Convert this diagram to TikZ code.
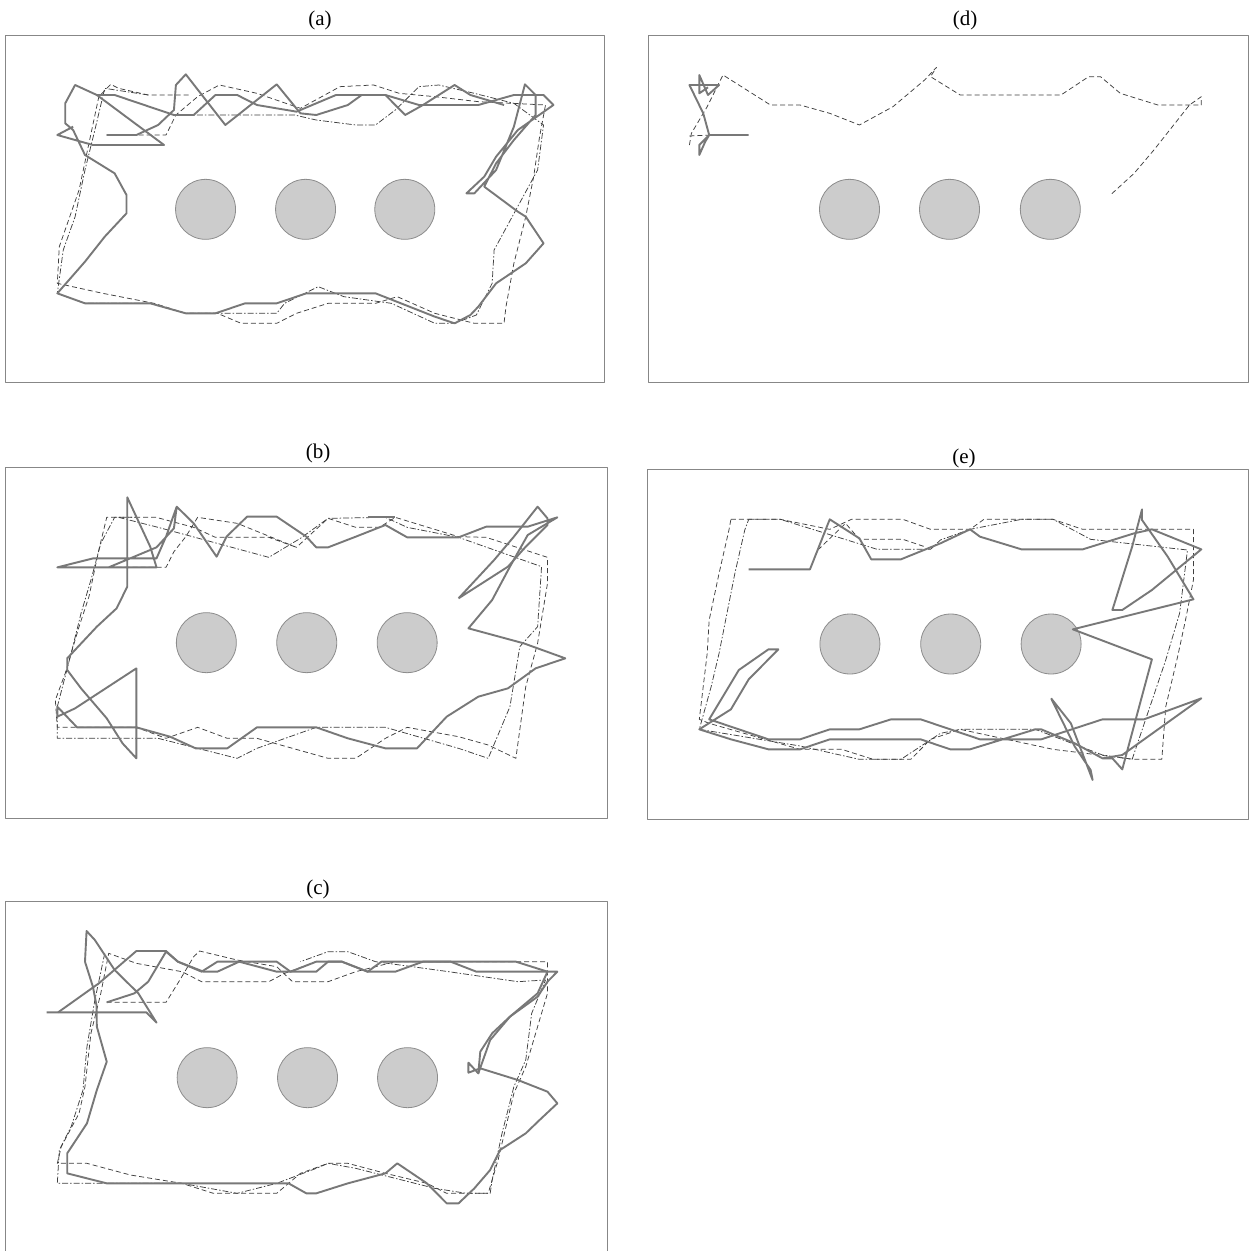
\documentclass[tikz,border=0pt]{standalone}
\usepackage{fontspec}
\setmainfont{Liberation Serif}
\begin{document}
\begin{tikzpicture}[x=1pt,y=-1pt,line join=round,
  frame/.style={draw=black!47,line width=1pt},
  obst/.style={draw=black!45,fill=black!20,line width=0.8pt},
  trajs/.style={draw=black!53,line width=1.9pt},
  trajd/.style={draw=black!75,line width=0.75pt,dash pattern=on 5pt off 3pt},
  trajdd/.style={draw=black!75,line width=0.75pt,dash pattern=on 6pt off 2pt on 1.5pt off 2pt},
  lbl/.style={font=\fontsize{21}{25}\selectfont,inner sep=0pt},
  zoomsc/.style={x={(0.3953pt,0pt)},y={(0pt,-0.33333pt)}}]
\useasboundingbox (0,0) rectangle (1255,1250);
\fill[white] (0,0) rectangle (1255,1250);
% labels
\node[lbl] (la) at (320,20) {(a)};
\node[lbl] (ld) at (965,20) {(d)};
\node[lbl] (lb) at (318,453) {(b)};
\node[lbl] (le) at (964,458) {(e)};
\node[lbl] (lc) at (318,889) {(c)};

% ---------------- panel (a)
\begin{scope}[shift={(0pt,-30pt)},zoomsc]
\draw[frame] (15,15) rectangle (1530,1058);
\draw[obst] (520,538) circle[radius=30pt];
\draw[obst] (773,538) circle[radius=30pt];
\draw[obst] (1024,538) circle[radius=30pt];
\draw[trajd] plot coordinates {(270,315) (420,315) (445,255) (500,200) (555,165) (650,190) (760,235) (860,170) (945,165) (1010,190) (1100,200) (1210,215) (1380,225) (1365,320) (1350,440) (1330,560) (1300,700) (1280,830) (1275,880) (1200,880) (1100,850) (1005,800) (950,820) (830,820) (750,850) (700,880) (610,880) (550,850) (470,850) (390,820) (260,790) (145,760) (150,650) (200,480) (225,340) (250,200) (280,163) (300,175) (375,195) (480,195)};
\draw[trajdd] plot coordinates {(440,255) (745,255) (800,270) (900,285) (950,285) (1000,240) (1060,170) (1110,165) (1200,190) (1300,220) (1375,285) (1360,420) (1305,540) (1250,660) (1245,760) (1205,855) (1150,880) (1100,880) (990,820) (870,800) (805,770) (720,820) (700,850) (470,850) (380,820) (215,820) (145,790) (160,660) (190,560) (215,420) (240,300) (265,175) (375,195)};
\draw[trajs] plot coordinates {(270,315) (345,315) (400,285) (440,240) (445,165) (470,133) (570,285) (700,163) (760,250) (800,255) (880,225) (915,195) (975,195) (1025,255) (1070,225) (1150,165) (1190,195) (1275,225)};
\draw[trajs] plot coordinates {(185,290) (145,315) (235,345) (415,345) (245,195) (290,195) (440,255) (490,255) (545,195) (600,195) (650,225) (750,245) (850,195) (975,195) (1060,225) (1210,225) (1300,195) (1375,195) (1400,225) (1310,300) (1255,380) (1225,440) (1180,490) (1200,490) (1255,420) (1300,290) (1328,163) (1355,195) (1355,255) (1300,330) (1255,400) (1225,470) (1310,545) (1330,560) (1375,640) (1330,700) (1255,760) (1210,830) (1190,855) (1150,880) (1100,860) (950,790) (775,790) (700,820) (620,820) (545,850) (470,850) (380,820) (215,820) (145,790) (215,695) (265,620) (320,550) (320,495) (290,430) (215,375) (185,300) (165,280) (165,220) (190,165) (245,195)};
\end{scope}

% ---------------- panel (d)
\begin{scope}[shift={(640pt,-30pt)},zoomsc]
\draw[frame] (22,15) rectangle (1539,1058);
\draw[obst] (530,538) circle[radius=30pt];
\draw[obst] (783,538) circle[radius=30pt];
\draw[obst] (1038,538) circle[radius=30pt];
\draw[trajd] plot coordinates {(125,345) (130,310) (170,230) (210,135) (330,225) (405,225) (480,250) (555,285) (640,230) (720,150) (750,112) (735,140) (810,195) (1065,195) (1135,140) (1165,140) (1215,190) (1310,225) (1420,225) (1420,200) (1390,225) (1340,300) (1300,360) (1250,430) (1190,495)};
\draw[trajd] plot coordinates {(125,318) (180,315)};
\draw[trajs] plot coordinates {(275,315) (175,315) (160,250) (125,165) (200,165) (172,195) (150,135) (150,190) (172,172)};
\draw[trajs] plot coordinates {(175,315) (150,345) (150,375) (165,335) (175,315)};
\end{scope}

% ---------------- panel (b)
\begin{scope}[shift={(0pt,-440pt)},zoomsc]
\draw[frame] (15,82) rectangle (1537,1135);
\draw[obst] (522,608) circle[radius=30pt];
\draw[obst] (776,608) circle[radius=30pt];
\draw[obst] (1030,608) circle[radius=30pt];
\draw[trajd] plot coordinates {(275,382) (420,382) (440,335) (470,290) (500,232) (600,250) (750,322) (830,235) (900,262) (960,262) (1000,232) (1160,290) (1230,292) (1385,352) (1385,430) (1360,610) (1330,740) (1305,955) (1235,915) (1160,890) (1030,862) (975,895) (900,955) (830,955) (650,895) (575,895) (500,862) (420,895) (345,862) (145,862) (140,780) (165,700) (200,560) (225,470) (250,330) (270,232) (395,232) (490,262) (545,292) (680,292) (750,322)};
\draw[trajdd] plot coordinates {(300,232) (400,262) (680,352) (760,295) (830,235) (975,232) (1030,262) (1160,292) (1370,380) (1360,560) (1315,620) (1290,800) (1235,955) (1160,925) (975,862) (800,862) (650,925) (600,955) (500,925) (400,895) (145,895) (145,800) (180,640) (205,520) (230,420) (255,310) (290,232) (345,232)};
\draw[trajs] plot coordinates {(275,382) (396,322) (440,265) (447,200) (490,250) (548,350) (573,290) (625,230) (700,230) (775,290) (800,322) (830,322) (900,290) (975,255) (1030,292) (1160,292) (1230,260) (1335,260) (1410,232) (1335,285) (1290,380) (1245,480) (1185,565) (1325,610) (1430,655) (1355,685) (1285,745) (1210,770) (1130,830) (1055,925) (975,925) (880,895) (800,862) (650,862) (575,925) (495,925) (430,890) (345,862) (195,862) (145,800) (145,830) (190,805) (345,685) (345,955) (310,910) (270,835) (205,745) (170,690) (170,655) (245,560) (295,505) (322,440) (322,172) (380,320) (396,382) (145,382) (236,355) (396,355) (420,290) (447,200)};
\draw[trajs] plot coordinates {(930,232) (1000,232)};
\draw[trajs] plot coordinates {(1160,475) (1285,380) (1330,320) (1385,255) (1385,235) (1360,200) (1300,290) (1250,360) (1160,475)};
\end{scope}

% ---------------- panel (e)
\begin{scope}[shift={(640pt,-440pt)},zoomsc]
\draw[frame] (20,88) rectangle (1540,1138);
\draw[obst] (531,612) circle[radius=30pt];
\draw[obst] (786,612) circle[radius=30pt];
\draw[obst] (1040,612) circle[radius=30pt];
\draw[trajd] plot coordinates {(230,238) (355,238) (480,268) (535,238) (665,238) (735,268) (835,268) (870,238) (1045,238) (1120,268) (1400,268) (1400,420) (1380,540) (1360,650) (1330,800) (1320,958) (1250,958) (1045,928) (810,868) (735,898) (685,958) (590,958) (510,928) (405,928) (175,850) (150,838) (170,640) (175,540) (200,400) (225,270) (230,238)};
\draw[trajdd] plot coordinates {(275,238) (355,238) (600,328) (735,328) (760,300) (835,268) (965,238) (1045,238) (1140,298) (1385,330) (1365,520) (1330,660) (1290,800) (1245,958) (1170,945) (1000,868) (810,868) (760,880) (660,958) (555,958) (405,918) (150,868) (180,740) (200,640) (220,520) (240,400) (265,270) (275,238)};
\draw[trajd] plot coordinates {(450,330) (520,250) (555,298) (665,298) (720,320)};
\draw[trajs] plot coordinates {(275,388) (430,388) (480,238) (555,295) (585,358) (660,358) (760,310) (835,268) (860,290) (965,328) (1120,328) (1250,280) (1295,268) (1420,328) (1295,450) (1220,510) (1195,510) (1245,320) (1270,208) (1270,240) (1335,350) (1400,478) (1095,568) (1295,658) (1220,988) (1195,955) (1170,955) (1100,910) (1015,868) (1000,868) (835,928) (785,928) (710,898) (480,898) (405,928) (325,928) (230,898) (150,868) (230,808) (275,718) (350,628) (325,628) (250,690) (175,838) (325,898) (405,898) (480,868) (555,868) (635,838) (710,838) (860,898) (1015,898) (1170,838) (1275,838) (1420,775) (1220,945) (1170,955)};
\draw[trajs] plot coordinates {(1040,775) (1090,850) (1145,1020) (1140,990) (1100,920) (1040,775)};
\end{scope}

% ---------------- panel (c)
\begin{scope}[shift={(0pt,-860pt)},zoomsc]
\draw[frame] (15,1175) -- (15,123) -- (1537,123) -- (1537,1175);
\draw[obst] (524,653) circle[radius=30pt];
\draw[obst] (778,653) circle[radius=30pt];
\draw[obst] (1031,653) circle[radius=30pt];
\draw[trajd] plot coordinates {(270,427) (420,427) (455,360) (490,290) (505,273) (600,300) (700,320) (740,365) (830,365) (900,335) (1000,305) (1385,305) (1385,400) (1360,500) (1330,620) (1300,700) (1280,800) (1260,900) (1235,1000) (1130,1000) (1080,970) (975,940) (880,910) (830,910) (760,940) (700,1000) (540,1000) (460,970) (330,945) (220,910) (145,910) (155,860) (200,760) (215,680) (230,520) (255,400) (275,280) (345,310) (460,335) (510,365) (680,365) (720,340) (800,305)};
\draw[trajdd] plot coordinates {(265,280) (240,420) (220,560) (210,690) (180,800) (150,870) (145,970) (330,970) (460,970) (600,1000) (700,970) (800,925) (830,910) (900,925) (1000,955) (1100,985) (1180,1000) (1240,1000) (1245,960) (1270,820) (1300,680) (1330,600) (1345,460) (1380,360) (1310,365) (1135,335) (950,305) (880,275) (830,275) (760,305)};
\draw[trajs] plot coordinates {(270,427) (340,400) (375,365) (420,275) (450,305) (515,335) (550,335) (605,305) (700,305) (735,335) (800,335) (830,305) (865,305) (930,335) (965,305) (1070,305) (1305,305) (1385,335) (1410,335) (1385,365) (1360,410) (1290,470) (1240,540) (1210,640) (1185,608) (1185,638) (1215,625) (1310,660) (1385,695) (1410,730) (1365,780) (1330,820) (1265,870) (1240,930) (1200,985) (1160,1030) (1130,1030) (1080,970) (1005,910) (975,940) (880,970) (800,1000) (775,1000) (730,970) (270,970) (170,940) (170,880) (220,790) (245,690) (270,605) (245,500) (244,435) (235,380) (215,305) (219,213) (240,240) (290,330) (350,400) (396,488) (370,457) (118,457)};
\draw[trajs] plot coordinates {(147,457) (250,370) (345,273) (420,273) (450,305) (510,335) (550,305) (605,305) (700,335) (735,335) (800,305) (865,305) (930,335) (1000,335) (1070,305) (1140,305) (1205,335) (1385,335) (1360,400) (1290,470) (1245,520) (1215,575) (1210,640)};
\end{scope}
\end{tikzpicture}
\end{document}
